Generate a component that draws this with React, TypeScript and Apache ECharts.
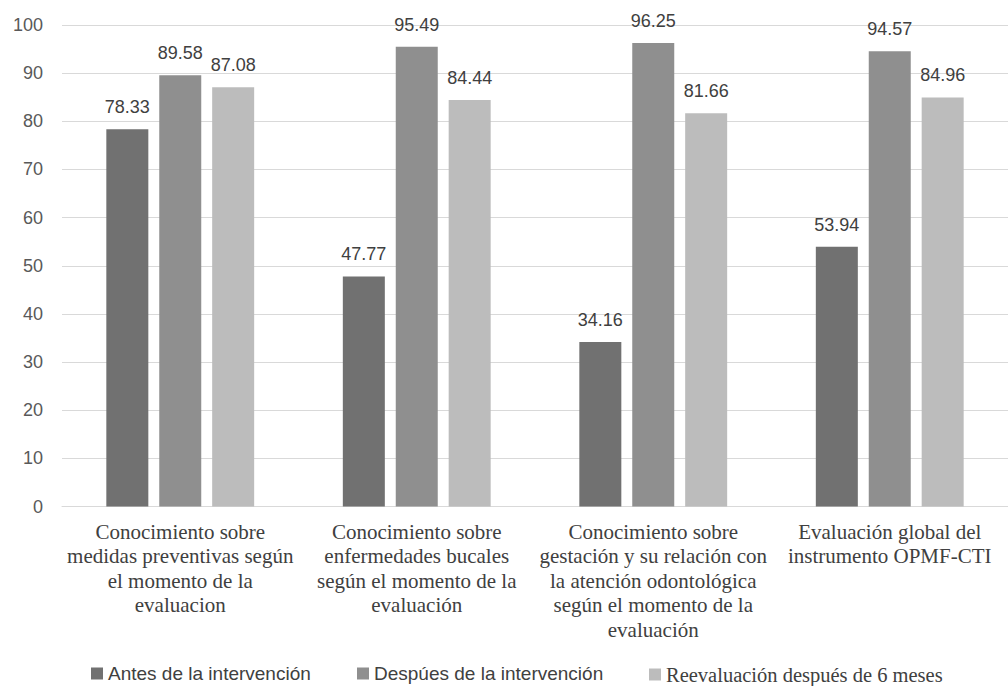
import React, { useEffect, useRef } from "react";
import * as echarts from "echarts";

const categories = [
  "Conocimiento sobre\nmedidas preventivas según\nel momento de la\nevaluacion",
  "Conocimiento sobre\nenfermedades bucales\nsegún el momento de la\nevaluación",
  "Conocimiento sobre\ngestación y su relación con\nla atención odontológica\nsegún el momento de la\nevaluación",
  "Evaluación global del\ninstrumento OPMF-CTI",
];
const seriesNames = [
  "Antes de la intervención",
  "Despúes de la intervención",
  "Reevaluación después de 6 meses",
];
const antes = [78.33, 47.77, 34.16, 53.94];
const despues = [89.58, 95.49, 96.25, 94.57];
const reevaluacion = [87.08, 84.44, 81.66, 84.96];
const yTicks = { min: 0, max: 100, interval: 10 };

const colors = ["#717171", "#8f8f8f", "#bcbcbc"];
const SANS = "'Liberation Sans', Arial, sans-serif";
const SERIF = "'Liberation Serif', 'Times New Roman', serif";

export default function App() {
  const ref = useRef<HTMLDivElement>(null);
  useEffect(() => {
    document.body.style.margin = "0";
    if (!ref.current) return;
    const chart = echarts.init(ref.current, undefined, { renderer: "svg" });
    const values = [antes, despues, reevaluacion];
    const legendLefts = [91, 357, 649];
    chart.setOption({
      animation: false,
      backgroundColor: "#ffffff",
      grid: { left: 62, top: 25, width: 956, height: 481.5 },
      xAxis: {
        type: "category",
        data: categories,
        axisLine: { show: true, lineStyle: { color: "#d9d9d9", width: 1 } },
        axisTick: { show: false },
        axisLabel: {
          interval: 0,
          margin: 13,
          fontFamily: SERIF,
          fontSize: 21,
          lineHeight: 24.5,
          color: "#404040",
          align: "center",
          verticalAlign: "top",
        },
      },
      yAxis: {
        type: "value",
        min: yTicks.min,
        max: yTicks.max,
        interval: yTicks.interval,
        axisLine: { show: false },
        axisTick: { show: false },
        splitLine: { lineStyle: { color: "#d9d9d9", width: 1 } },
        axisLabel: {
          margin: 19,
          fontFamily: SANS,
          fontSize: 18,
          color: "#595959",
        },
      },
      legend: seriesNames.map((n, i) => ({
        data: [n],
        left: legendLefts[i],
        top: 664,
        padding: 0,
        itemWidth: 12,
        itemHeight: 12,
        icon: "rect",
        textStyle: {
          fontFamily: i === 2 ? SERIF : SANS,
          fontSize: i === 2 ? 20.5 : 19,
          color: "#404040",
        },
      })),
      series: seriesNames.map((n, i) => ({
        name: n,
        type: "bar",
        data: values[i],
        barWidth: 42,
        barGap: "26%",
        itemStyle: { color: colors[i] },
        label: {
          show: true,
          position: "top",
          distance: 13,
          fontFamily: SANS,
          fontSize: 18,
          color: "#404040",
          formatter: (p: any) => p.value.toFixed(2),
        },
      })),
    });
    return () => chart.dispose();
  }, []);
  return <div ref={ref} style={{ width: 1008, height: 686 }} />;
}
